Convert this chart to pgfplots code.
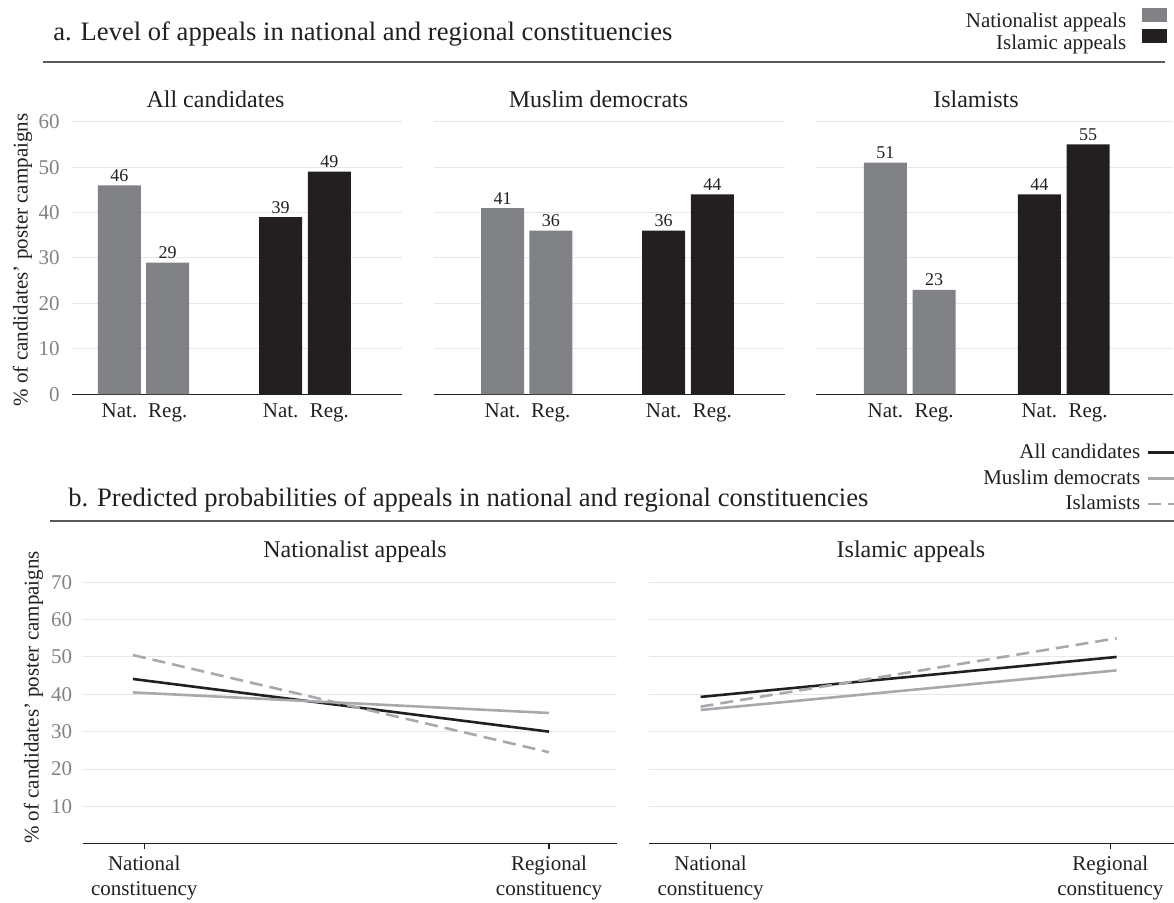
\documentclass[border=0pt]{standalone}
\usepackage{pgfplots}
\pgfplotsset{compat=1.18}
\usepackage{fontspec}
\setmainfont{Liberation Serif}

\definecolor{ink}{HTML}{231F20}
\definecolor{natgray}{HTML}{808285}
\definecolor{gridc}{HTML}{E6E7E8}
\definecolor{tickc}{HTML}{808285}
\definecolor{rulec}{HTML}{58595B}
\definecolor{linegray}{HTML}{A7A9AC}

\newcommand{\ticksize}{\fontsize{10.5}{12.5}\selectfont}

\pgfplotsset{
  base/.style={
    /pgf/number format/assume math mode=true,
    enlargelimits=false,
    axis x line=bottom, axis y line=left,
    x axis line style={-, draw=ink, line width=0.65pt},
    y axis line style={draw=none},
    ytick style={draw=none},
    ymajorgrids, grid style={gridc, line width=0.5pt},
    tick label style={font=\ticksize},
    yticklabel style={color=tickc, anchor=east, inner sep=0pt},
    xticklabel style={color=ink, inner sep=0pt},
    ylabel style={font=\ticksize, color=ink, anchor=center},
  },
  bars/.style={
    base, ybar, bar width=21.5pt, bar shift=0pt,
    x=24.125pt, y=2.2717pt, ymin=0, ymax=60, ytick={0,10,...,60},
    xtick style={draw=none}, major tick length=0pt,
    nodes near coords,
    nodes near coords style={font=\fontsize{9}{10}\selectfont, color=ink,
      anchor=base, inner sep=0pt, yshift=2pt},
    xticklabel style={anchor=base, yshift=-11.85pt},
    yticklabel style={xshift=-6pt},
  },
  lines/.style={
    base, x=208pt, y=1.8675pt, ymin=0, ymax=70, ytick={10,20,...,70},
    tick align=outside, major tick length=2.4pt,
    xtick style={draw=ink, line width=0.6pt},
    xticklabel style={align=center, anchor=north, yshift=-3.5pt},
    yticklabel style={xshift=-3pt},
  },
}

\begin{document}
\begin{tikzpicture}
\useasboundingbox (0,0) rectangle (587pt,-451.5pt);

% ---------- panel a ----------
\node[anchor=base west, inner sep=0pt, text=ink, font=\fontsize{13.3}{16}\selectfont]
  at (26.5pt,-20.5pt) {a. Level of appeals in national and regional constituencies};
\draw[rulec, line width=1.15pt] (21.5pt,-30.85pt) -- (582.5pt,-30.85pt);

\begin{axis}[bars, at={(36pt,-197.15pt)}, anchor=south west,
  xmin=-0.984, xmax=5.855,
  xtick={0,1,3.34,4.35}, xticklabels={Nat.,Reg.,Nat.,Reg.},
  ylabel={\% of candidates' poster campaigns},
  ylabel style={at={(axis description cs:-0.15,0.4927)}}]
  \addplot[fill=natgray, draw=none] coordinates {(0,46) (1,29)};
  \addplot[fill=ink, draw=none] coordinates {(3.34,39) (4.35,49)};
\end{axis}

\begin{axis}[bars, at={(217pt,-197.15pt)}, anchor=south west,
  xmin=-1.42, xmax=5.86, yticklabels={},
  xtick={0,1,3.34,4.35}, xticklabels={Nat.,Reg.,Nat.,Reg.}]
  \addplot[fill=natgray, draw=none] coordinates {(0,41) (1,36)};
  \addplot[fill=ink, draw=none] coordinates {(3.34,36) (4.35,44)};
\end{axis}

\begin{axis}[bars, at={(408pt,-197.15pt)}, anchor=south west,
  xmin=-1.438, xmax=5.961, yticklabels={},
  xtick={0,1.01,3.19,4.2}, xticklabels={Nat.,Reg.,Nat.,Reg.},
  legend plot pos=right, legend cell align=right,
  legend image code/.code={\fill[#1] (0pt,0pt) rectangle (12.5pt,7pt);},
  legend style={at={(axis description cs:0.985,1.4186)}, anchor=north east,
    draw=none, fill=none, font=\ticksize, text=ink,
    row sep=-0.75pt, column sep=8pt, inner sep=0pt, nodes={inner sep=0pt}}]
  \addplot[fill=natgray, draw=none] coordinates {(0,51) (1.01,23)};
  \addplot[fill=ink, draw=none] coordinates {(3.19,44) (4.2,55)};
  \legend{Nationalist appeals, Islamic appeals}
\end{axis}

\foreach \cx/\txt in {107.75/All candidates, 299.25/Muslim democrats, 488/Islamists}
  \node[anchor=base, inner sep=0pt, text=ink, font=\fontsize{12}{14}\selectfont]
    at (\cx pt,-54pt) {\txt};

% ---------- panel b ----------
\node[anchor=base west, inner sep=0pt, text=ink, font=\fontsize{13.3}{16}\selectfont]
  at (34pt,-253.5pt) {b. Predicted probabilities of appeals in national and regional constituencies};
\draw[rulec, line width=1.15pt] (25pt,-260.35pt) -- (587pt,-260.35pt);

\begin{axis}[lines, at={(41.65pt,-421.85pt)}, anchor=south west,
  xmin=-0.1195, xmax=1.163,
  xtick={0.027,1}, xticklabels={{National\\constituency},{Regional\\constituency}},
  ylabel={\% of candidates' poster campaigns},
  ylabel style={at={(axis description cs:-0.0934,0.559)}}]
  \addplot[ink, line width=1.3pt] coordinates {(0,44.1) (1,30.0)};
  \addplot[linegray, line width=1.3pt] coordinates {(0,40.5) (1,35.0)};
  \addplot[linegray, line width=1.3pt, dash pattern=on 6.5pt off 3.5pt] coordinates {(0,50.5) (1,24.5)};
\end{axis}

\begin{axis}[lines, at={(324.5pt,-421.85pt)}, anchor=south west,
  xmin=-0.124, xmax=1.137, yticklabels={},
  xtick={0.024,0.985}, xticklabels={{National\\constituency},{Regional\\constituency}},
  legend plot pos=right, legend cell align=right,
  legend image code/.code={\draw[#1] (0pt,0pt) -- (14pt,0pt);},
  legend style={at={(axis description cs:1.008,1.5303)}, anchor=north east,
    draw=none, fill=none, font=\ticksize, text=ink,
    row sep=4pt, column sep=3.3pt, inner sep=0pt, nodes={inner sep=0pt}}]
  \addplot[ink, line width=1.3pt] coordinates {(0,39.3) (1,50.0)};
  \addplot[linegray, line width=1.3pt] coordinates {(0,35.8) (1,46.4)};
  \addplot[linegray, line width=1.3pt, dash pattern=on 6.5pt off 3.5pt] coordinates {(0,36.7) (1,55.0)};
  \legend{All candidates, Muslim democrats, Islamists}
\end{axis}

\foreach \cx/\txt in {177.5/Nationalist appeals, 455.5/Islamic appeals}
  \node[anchor=base, inner sep=0pt, text=ink, font=\fontsize{12}{14}\selectfont]
    at (\cx pt,-279pt) {\txt};
\end{tikzpicture}
\end{document}
